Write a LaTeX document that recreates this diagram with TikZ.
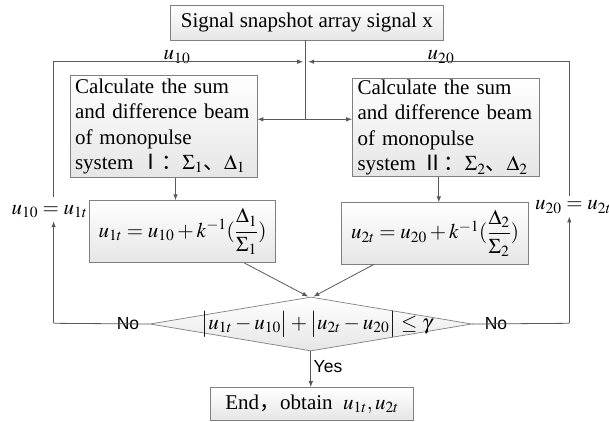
\documentclass[tikz,border=0pt]{standalone}
\usepackage{amsmath}
\usepackage{mathptmx}
\usepackage{fontspec}
\setmainfont{Liberation Serif}
\newfontfamily\cjk{Noto Sans CJK SC}
\newfontfamily\sansf{Liberation Sans}
\usetikzlibrary{shapes.geometric,arrows.meta,calc}
\begin{document}
\begin{tikzpicture}[x=1pt,y=-1pt,
  box/.style={draw=black!50, line width=0.7pt, top color=white, bottom color=black!10,
    inner sep=0pt, font=\fontsize{21}{25.5}\selectfont},
  conn/.style={draw=black!65, line width=0.8pt},
  arr/.style={conn, -{Latex[length=6pt,width=4.5pt]}},
  lbl/.style={font=\fontsize{21}{25}\selectfont, inner sep=0pt},
  yn/.style={font=\sansf\fontsize{17.5}{20}\selectfont, inner sep=0pt}]
\useasboundingbox (0,0) rectangle (609,422);

% boxes
\node[box, minimum width=273pt, minimum height=35pt] (top) at (306.8,22.5) {Signal snapshot array signal x};
\node[box, text width=177pt, inner xsep=5pt, minimum height=102.7pt, align=left] (b1) at (163.5,126.3)
  {Calculate the sum\\and difference beam\\of monopulse\\system {\cjk Ⅰ：}$\Sigma_1${\cjk 、}$\Delta_1$};
\node[box, text width=176.5pt, inner xsep=5pt, minimum height=98pt, align=left] (b2) at (445.8,127.6)
  {Calculate the sum\\and difference beam\\of monopulse\\system {\cjk Ⅱ：}$\Sigma_2${\cjk 、}$\Delta_2$};
\node[box, minimum width=186.4pt, minimum height=62pt] (eq1) at (182.5,231.7)
  {$u_{1t}=u_{10}+k^{-1}(\dfrac{\Delta_1}{\Sigma_1})$};
\node[box, minimum width=186.6pt, minimum height=61.2pt] (eq2) at (435,233.4)
  {$u_{2t}=u_{20}+k^{-1}(\dfrac{\Delta_2}{\Sigma_2})$};
\node[draw=black!50, line width=0.7pt, top color=white, bottom color=black!10, shape=diamond,
  minimum width=322pt, minimum height=54pt, inner sep=0pt] (dec) at (310.8,324) {};
\node[lbl] (dect) at (317,324) {$\bigl|u_{1t}-u_{10}\bigr|+\bigl|u_{2t}-u_{20}\bigr|\le\gamma$};
\node[box, minimum width=202.8pt, minimum height=32.8pt] (end) at (312.1,403.9)
  {End{\cjk ，}obtain\ \ $u_{1t},u_{2t}$};

% labels
\node[lbl, anchor=base] (u10) at (177,60) {$u_{10}$};
\node[lbl, anchor=base] (u20) at (441,60) {$u_{20}$};
\node[lbl] (L1) at (49.5,211.7) {$u_{10}=u_{1t}$};
\node[lbl, anchor=west] (R1) at (535,207) {$u_{20}=u_{2t}$};
\node[yn] (no1) at (128,323.3) {No};
\node[yn] (no2) at (496,323.3) {No};
\node[yn, anchor=west] (yes) at (313.5,367) {Yes};

% helper coordinates
\coordinate (j) at (305.7,119.3);
\coordinate (m) at (305.7,61.7);
\coordinate (cl) at (53.6,323.3);
\coordinate (cr) at (569.3,323.3);

% connectors
\draw[conn] (m |- top.south) -- (j);
\draw[arr] (j) -- (j -| b1.east);
\draw[arr] (j) -- (j -| b2.west);
\draw[arr] ([xshift=12pt]b1.south) -- ([xshift=12pt]b1.south |- eq1.north);
\draw[arr] ([xshift=-7pt]b2.south) -- ([xshift=-7pt]b2.south |- eq2.north);
\draw[arr] ([xshift=62pt]eq1.south) -- ([xshift=-2.5pt]dec.north);
\draw[arr] ([xshift=-61pt]eq2.south) -- ([xshift=2.5pt]dec.north);
\draw[arr] (dec.south) -- (dec.south |- end.north);
\draw[conn] (dec.west) -- (cl);
\draw[arr] (cl) -- ([yshift=-3pt]L1.south -| cl);
\draw[arr] ([yshift=8pt]L1.north -| cl) -- (cl |- m) -- ([xshift=-2.5pt]m);
\draw[conn] (dec.east) -- (cr);
\draw[arr] (cr) -- ([yshift=-3pt]R1.south -| cr);
\draw[arr] ([yshift=5pt]R1.north -| cr) -- (cr |- m) -- ([xshift=2.5pt]m);
\end{tikzpicture}
\end{document}
